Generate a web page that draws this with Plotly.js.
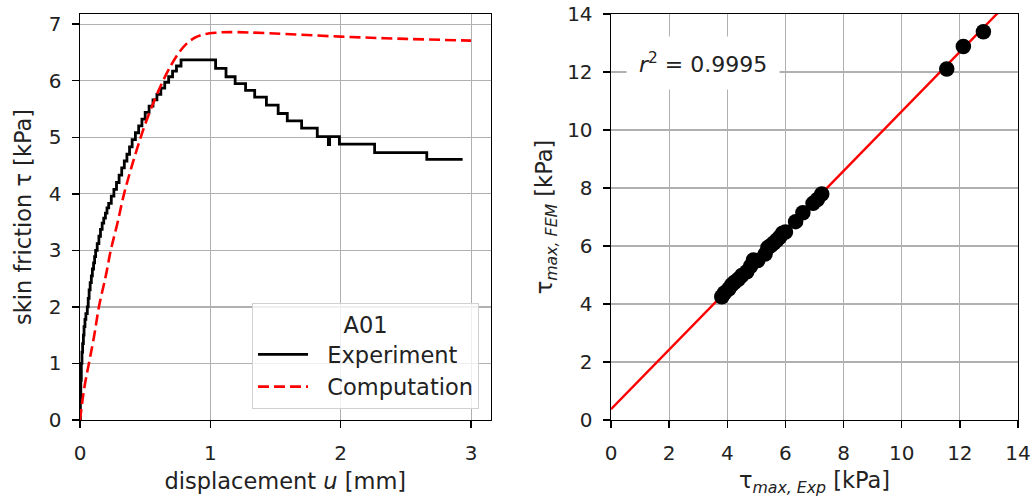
<!DOCTYPE html>
<html>
<head>
<meta charset="utf-8">
<script src="https://cdn.plot.ly/plotly-3.0.1.min.js"></script>
<style>html,body{margin:0;padding:0;background:#fff;}#chart{width:1035px;height:499px;}</style>
</head>
<body>
<div id="chart"></div>
<script>
// Left panel: experiment (stepped) and computation curves
const expU   = [0,0.003,0.006,0.01,0.015,0.02,0.026,0.031,0.038,0.045,0.056,0.063,0.07,0.078,0.087,0.095,0.104,0.112,0.12,0.132,0.145,0.157,0.17,0.182,0.195,0.207,0.22,
                0.24,0.26,0.28,0.30,0.32,0.34,0.36,0.38,0.40,0.425,0.45,0.475,0.50,0.53,0.56,0.59,0.62,0.65,0.68,0.71,0.74,0.775,
                1.04,1.12,1.19,1.27,1.34,1.43,1.52,1.59,1.70,1.82,1.905,1.915,1.99,2.26,2.66,2.935];
const expTau = [0,0.4,0.7,1.0,1.2,1.35,1.5,1.65,1.78,1.88,2.0,2.15,2.3,2.43,2.55,2.67,2.78,2.89,3.0,3.12,3.25,3.37,3.48,3.57,3.66,3.75,3.83,
                3.96,4.08,4.20,4.33,4.46,4.58,4.70,4.83,4.96,5.08,5.20,5.32,5.44,5.55,5.66,5.76,5.87,5.97,6.07,6.17,6.26,6.37,
                6.22,6.07,5.95,5.83,5.71,5.57,5.42,5.29,5.16,5.01,4.87,5.01,4.88,4.73,4.61,4.61];
const compU   = [0,0.031,0.069,0.108,0.146,0.197,0.236,0.287,0.338,0.40,0.48,0.556,0.633,0.70,0.76,0.82,0.88,0.95,1.05,1.15,1.45,2.0,2.5,3.0];
const compTau = [0,0.54,1.01,1.48,2.01,2.54,3.0,3.48,4.0,4.51,5.10,5.57,5.98,6.28,6.50,6.66,6.76,6.82,6.85,6.86,6.84,6.78,6.74,6.71];

// Right panel: max skin friction, experiment vs FEM
const tauExp = [3.81,3.90,4.05,4.15,4.25,4.38,4.50,4.67,4.80,4.90,5.05,5.30,5.40,5.50,5.60,5.70,5.80,5.90,6.00,6.35,6.60,6.95,7.10,7.25,11.55,12.12,12.81];
const tauFem = [4.25,4.38,4.52,4.66,4.75,4.85,4.98,5.11,5.30,5.52,5.50,5.72,5.95,6.02,6.10,6.20,6.30,6.44,6.48,6.84,7.15,7.47,7.60,7.79,12.10,12.88,13.39];
const fitX = [0, 14];
const fitY = [0.37, 14.75];
const r2Text = '<i>r</i><sup>2</sup> = 0.9995';

const FONT = 'DejaVu Sans, sans-serif';
const axBase = {
  showline: true, linecolor: '#000', linewidth: 1.4, mirror: true,
  ticks: 'outside', ticklen: 7, tickwidth: 1.4, tickcolor: '#000',
  showgrid: true, gridcolor: '#b0b0b0', gridwidth: 1.2,
  zeroline: false, tickfont: {family: FONT, size: 20, color: '#222'}
};
const titleFont = {family: FONT, size: 22.5, color: '#222'};

const traces = [
  {x: expU, y: expTau, type: 'scatter', mode: 'lines', name: '\u00a0\u00a0Experiment',
   line: {color: '#000', width: 2.8, shape: 'hv'}, xaxis: 'x', yaxis: 'y'},
  {x: compU, y: compTau, type: 'scatter', mode: 'lines', name: '\u00a0\u00a0Computation',
   line: {color: '#ff0000', width: 2.6, dash: '11px,5px', shape: 'spline'}, xaxis: 'x', yaxis: 'y'},
  {x: fitX, y: fitY, type: 'scatter', mode: 'lines', showlegend: false,
   line: {color: '#ff0000', width: 2.4}, xaxis: 'x2', yaxis: 'y2'},
  {x: tauExp, y: tauFem, type: 'scatter', mode: 'markers', showlegend: false,
   marker: {color: '#000', size: 15.5}, xaxis: 'x2', yaxis: 'y2'}
];

const layout = {
  width: 1035, height: 499,
  margin: {l: 80, r: 17, t: 14, b: 79},
  paper_bgcolor: '#fff', plot_bgcolor: '#fff',
  font: {family: FONT, size: 20, color: '#222'},
  showlegend: true,
  legend: {
    x: 0.4254, y: 0.027, xanchor: 'right', yanchor: 'bottom', xref: 'paper', yref: 'paper',
    bgcolor: 'rgba(255,255,255,0.8)', bordercolor: '#d0d0d0', borderwidth: 1,
    font: {family: FONT, size: 22.5, color: '#222'},
    title: {text: 'A01', side: 'top center', font: {family: FONT, size: 22.5, color: '#222'}},
    itemwidth: 50
  },
  xaxis: Object.assign({}, axBase, {domain: [0, 0.4378], range: [0, 3.15], dtick: 1, tick0: 0, ticklabelstandoff: 8,
    title: {text: 'displacement <i>u</i> [mm]', font: titleFont, standoff: 9}}),
  yaxis: Object.assign({}, axBase, {domain: [0, 1], range: [0, 7.18], dtick: 1, tick0: 0, ticklabelstandoff: 6,
    title: {text: 'skin friction τ [kPa]', font: titleFont, standoff: 11}}),
  xaxis2: Object.assign({}, axBase, {domain: [0.5661, 1], range: [0, 14], dtick: 2, tick0: 0, anchor: 'y2', ticklabelstandoff: 8,
    title: {text: 'τ<sub><i>max, Exp</i></sub> [kPa]', font: titleFont, standoff: 8}}),
  yaxis2: Object.assign({}, axBase, {domain: [0, 1], range: [0, 14], dtick: 2, tick0: 0, anchor: 'x2', ticklabelstandoff: 6,
    title: {text: 'τ<sub><i>max, FEM</i></sub> [kPa]', font: titleFont, standoff: 8}}),
  annotations: [{
    xref: 'x2', yref: 'y2', x: 3.16, y: 12.3, text: r2Text, showarrow: false,
    font: {family: FONT, size: 22, color: '#222'}, bgcolor: '#fff', borderpad: 12
  }]
};

Plotly.newPlot('chart', traces, layout, {staticPlot: true, displayModeBar: false});
</script>
</body>
</html>
